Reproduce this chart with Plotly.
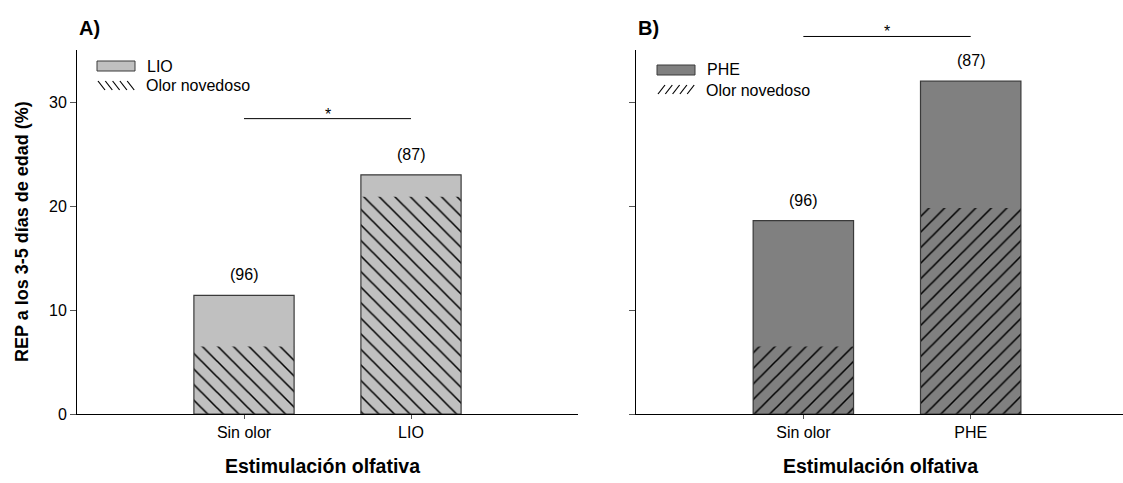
import plotly.graph_objects as go

# ---------------- data ----------------
categories_A = ["Sin olor", "LIO"]
total_A = [11.4, 23.0]
novel_A = [6.5, 20.9]
n_A = ["(96)", "(87)"]
sig_A = 28.4

categories_B = ["Sin olor", "PHE"]
total_B = [18.6, 32.0]
novel_B = [6.5, 19.8]
n_B = ["(96)", "(87)"]
sig_B = 36.3

y_ticks = [0, 10, 20, 30]
Y_MAX = 35

# ---------------- style ----------------
W, H = 1123, 483
FONT = "Liberation Sans, Arial, sans-serif"
COL_A = "#c0c0c0"
COL_B = "#808080"
EDGE = "#3a3a3a"


def px(x):
    return x / W


def py(y):
    return 1 - y / H


fig = go.Figure()
xpos = [0, 1]


def add_panel(xa, ya, total, novel, color, shape):
    fig.add_trace(go.Bar(x=xpos, y=total, width=0.6, marker=dict(color=color, line=dict(width=0)),
                         xaxis=xa, yaxis=ya, showlegend=False, hoverinfo="skip"))
    fig.add_trace(go.Bar(x=xpos, y=novel, width=0.6,
                         marker=dict(color=color, line=dict(width=0),
                                     pattern=dict(shape=shape, size=11, solidity=0.14,
                                                  fgcolor="black", bgcolor=color, fillmode="replace")),
                         xaxis=xa, yaxis=ya, showlegend=False, hoverinfo="skip"))
    fig.add_trace(go.Bar(x=xpos, y=total, width=0.6,
                         marker=dict(color="rgba(0,0,0,0)", line=dict(width=1.2, color=EDGE)),
                         xaxis=xa, yaxis=ya, showlegend=False, hoverinfo="skip"))


add_panel("x", "y", total_A, novel_A, COL_A, "\\")
add_panel("x2", "y2", total_B, novel_B, COL_B, "/")

fig.update_layout(barmode="overlay")

ydom = [py(414), py(50)]
axis_common = dict(showline=True, linecolor="black", linewidth=1, ticks="outside",
                   tickcolor="#555", tickfont=dict(family=FONT, size=16, color="black"),
                   showgrid=False, zeroline=False, fixedrange=True, automargin=False)

fig.update_layout(
    width=W, height=H, margin=dict(l=0, r=0, t=0, b=0, autoexpand=False),
    paper_bgcolor="white", plot_bgcolor="white",
    font=dict(family=FONT, color="black"),
    xaxis=dict(domain=[px(77), px(578)], range=[-1, 2], tickvals=xpos, ticktext=categories_A,
               ticklen=4, anchor="y", **axis_common),
    yaxis=dict(domain=ydom, range=[0, Y_MAX], tickvals=y_ticks, ticklen=6, anchor="x", **axis_common),
    xaxis2=dict(domain=[px(636), 1.0], range=[-1, 1.91], tickvals=xpos,
                ticktext=categories_B, ticklen=4, anchor="y2", **axis_common),
    yaxis2=dict(domain=ydom, range=[0, Y_MAX], tickvals=y_ticks, ticklen=6, showticklabels=False,
                anchor="x2", **axis_common),
)

ann = []
# n labels
for xa, ya, tot, labs in (("x", "y", total_A, n_A), ("x2", "y2", total_B, n_B)):
    for xi, t, lab in zip(xpos, tot, labs):
        ann.append(dict(x=xi, y=t, xref=xa, yref=ya, text=lab, showarrow=False,
                        yanchor="bottom", yshift=10, font=dict(size=16, family=FONT)))

# significance lines
for xa, ya, s in (("x", "y", sig_A), ("x2", "y2", sig_B)):
    fig.add_shape(type="line", xref=xa, yref=ya + " domain", x0=xpos[0], x1=xpos[1],
                  y0=s / Y_MAX, y1=s / Y_MAX, line=dict(color="black", width=1))
    ann.append(dict(x=0.5, y=s / Y_MAX, xref=xa, yref=ya + " domain", text="*", showarrow=False,
                    yanchor="bottom", yshift=-6, font=dict(size=16, family=FONT)))

# panel letters
ann.append(dict(x=px(77), y=py(28), xref="paper", yref="paper", text="<b>A)</b>", showarrow=False,
                xanchor="left", yanchor="middle", font=dict(size=20, family=FONT)))
ann.append(dict(x=px(636), y=py(28), xref="paper", yref="paper", text="<b>B)</b>", showarrow=False,
                xanchor="left", yanchor="middle", font=dict(size=20, family=FONT)))

# axis titles
ann.append(dict(x=px(22), y=py(232), xref="paper", yref="paper", text="<b>REP a los 3-5 días de edad (%)</b>",
                textangle=-90, showarrow=False, xanchor="center", yanchor="middle",
                font=dict(size=18, family=FONT)))
for cx in (322, 880):
    ann.append(dict(x=px(cx), y=py(466), xref="paper", yref="paper", text="<b>Estimulación olfativa</b>",
                    showarrow=False, xanchor="center", yanchor="middle", font=dict(size=19.5, family=FONT)))

# manual legends
legends = [
    (97, 61, COL_A, "LIO", "\\"),
    (657, 65, COL_B, "PHE", "/"),
]
for lx, ly, col, name, hatch in legends:
    fig.add_shape(type="rect", xref="paper", yref="paper", x0=px(lx), x1=px(lx + 38),
                  y0=py(ly + 10), y1=py(ly), fillcolor=col, line=dict(color=EDGE, width=1))
    ann.append(dict(x=px(lx + 48), y=py(ly + 5), xref="paper", yref="paper", text=name, showarrow=False,
                    xanchor="left", yanchor="middle", font=dict(size=16, family=FONT)))
    hy0, hy1 = ly + 20, ly + 29
    for i in range(5):
        x0 = lx + 1 + 7.3 * i
        if hatch == "\\":
            fig.add_shape(type="line", xref="paper", yref="paper", x0=px(x0), x1=px(x0 + 7),
                          y0=py(hy0), y1=py(hy1), line=dict(color="black", width=1.2))
        else:
            fig.add_shape(type="line", xref="paper", yref="paper", x0=px(x0), x1=px(x0 + 7),
                          y0=py(hy1), y1=py(hy0), line=dict(color="black", width=1.2))
    ann.append(dict(x=px(lx + 47), y=py(ly + 25), xref="paper", yref="paper", text="Olor novedoso",
                    showarrow=False, xanchor="left", yanchor="middle", font=dict(size=16, family=FONT)))

fig.update_layout(annotations=ann)
fig.write_html("out.html", config={"displayModeBar": False},
               post_script="document.body.style.margin='0';document.documentElement.style.overflow='hidden';")
